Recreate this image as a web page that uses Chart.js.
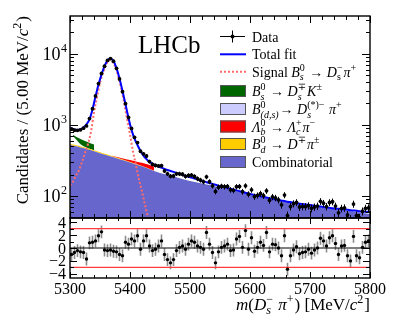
<!DOCTYPE html>
<html>
<head>
<meta charset="utf-8">
<script src="https://cdn.jsdelivr.net/npm/chart.js@4.4.0/dist/chart.umd.min.js"></script>
<style>
html, body { margin: 0; padding: 0; background: #fff; }
#wrap { position: relative; width: 403px; height: 328px; }
canvas { position: absolute; left: 0; top: 0; }
</style>
</head>
<body>
<div id="wrap">
  <canvas id="main" width="403" height="328"></canvas>
  <canvas id="pull" width="403" height="328"></canvas>
</div>
<script>
// binning: 5 MeV bins from 5300 to 5800
const binLow = 5300, binWidth = 5;

// data counts per bin
const counts = [870,840,838,852,899,966,1228,1687,2555,3816,
    5279,6675,8064,8572,7856,6252,4433,2934,1990,1271,
    891,668,563,426,391,365,305,278,269,265,
    267,225,205,190,191,205,205,202,189,194,
    196,188,175,167,158,186,159,139,116,133,
    137,135,136,122,120,135,136,115,139,106,
    122,98,102,108,101,118,87,97,94,88,
    75,103,53,71,78,81,70,71,71,73,
    67,70,72,84,79,71,81,83,72,58,
    67,68,54,47,77,53,49,61,67,68];

// pulls per bin (lower pad)
const pulls = [-1.0,-0.7,-0.4,-0.6,-0.7,-1.7,0.8,0.9,1.1,1.9,
    2.5,-0.3,-0.4,-0.3,-0.5,-0.6,-1.0,-1.2,0.9,0.6,
    1.4,1.1,1.9,-0.2,1.1,1.9,0.3,-0.4,-0.2,0.3,
    1.1,-1.0,-1.8,-2.3,-1.8,-0.4,0.1,0.3,-0.2,0.6,
    1.1,0.9,0.3,0.1,-0.2,2.4,0.6,-0.7,-2.3,-0.6,
    0.1,0.3,0.6,-0.4,-0.3,1.4,1.8,0.1,2.7,-0.2,
    1.6,-0.5,0.1,0.9,0.4,2.4,-0.6,0.6,0.5,0.0,
    -1.2,1.9,-3.3,-1.2,-0.3,0.2,-0.9,-0.7,-0.6,-0.2,
    -0.8,-0.3,0.0,1.5,1.1,0.3,1.6,1.9,0.7,-1.0,
    0.3,0.4,-1.2,-2.0,1.8,-1.2,-1.5,0.1,0.9,1.1];

// total fit at bin centres, plus the two edge values
const fitVals = [900,860,850,870,920,1020,1200,1650,2500,3700,
    5100,6700,8100,8600,7900,6300,4500,3000,1950,1250,
    850,640,520,430,370,330,300,285,272,260,
    250,240,232,225,218,211,204,198,192,186,
    181,176,171,166,161,156,152,148,144,140,
    136,132,129,126,123,120,117,114,111,108,
    106,103,101,99,97,95,93,91,89,88,
    86,85,83,82,81,79,78,77,76,75,
    74,73,72,71,70,69,68,67,66.5,66,
    65,64.5,64,63,62.5,62,61,60.5,60,59.5];
const fitEdges = [910, 59.3];

// signal Bs -> Ds pi (dotted)
const sigMass = [5300,5305,5310,5315,5320,5325,5330,5335,5340,5345,5350,5355,5360,5365,5370,
    5375,5380,5385,5390,5395,5400,5405,5410,5415,5420,5425,5430,5435,5440];
const sigVals = [140,160,195,230,300,400,540,800,1500,2450,3900,5400,6900,8130,7850,
    6690,5000,3370,2090,1220,730,420,270,170,115,75,50,36,26];

// stacked background components, shared mass grid
const compMass = [5300,5305,5310,5315,5320,5330,5340,5350,5360,5370,5380,5390,5400,5410,
    5420,5440,5460,5480,5500,5520,5540,5560,5600,5650,5700,5750,5800];
const combVals = [520,510,500,490,475,450,425,400,378,356,335,315,296,278,
    262,225,200,181,163,150,138,126,105,86,73,64,56];
const bdVals   = [18,18,17,17,16,15,14,12,11,9,8,6,5,3,2,1,0,0,0,0,0,0,0,0,0,0,0];
const lbVals   = [0,0,0,0,0,0,0,0,0,3,8,14,20,25,29,33,32,26,17,9,4,1,0,0,0,0,0];
const bdsVals  = [230,170,110,55,25,6,1,0,0,0,0,0,0,0,0,0,0,0,0,0,0,0,0,0,0,0,0];
const bsdkVals = [0,20,55,85,100,100,88,72,56,40,25,11,3,0,0,0,0,0,0,0,0,0,0,0,0,0,0];

const xTickLabels = [5300, 5400, 5500, 5600, 5700, 5800];
const yDecades = [2, 3, 4];
const pullTickLabels = [4, 2, 0, -2, -4];
const pullRefLines = [3, 0, -3];

const SERIF = '"Liberation Serif", "DejaVu Serif", serif';
function fnt(size, italic) {
    return (italic ? 'italic ' : '') + size + 'px ' + SERIF;
}

// draws text with italic pieces and stacked sub/superscripts, returns width
function rich(ctx, parts, x, y, size, measureOnly) {
    let cx = x;
    for (const p of parts) {
        if (typeof p === 'string' || p.i !== undefined) {
            const t = typeof p === 'string' ? p : p.i;
            ctx.font = fnt(size, typeof p !== 'string');
            if (!measureOnly) ctx.fillText(t, cx, y);
            cx += ctx.measureText(t).width;
        } else {
            const s = Math.round(size * 0.68);
            let w = 0;
            if (p.sup) {
                ctx.font = fnt(s, p.supI);
                if (!measureOnly) ctx.fillText(p.sup, cx, y - size * 0.42);
                w = ctx.measureText(p.sup).width;
            }
            if (p.sub) {
                ctx.font = fnt(s, p.subI);
                if (!measureOnly) ctx.fillText(p.sub, cx, y + size * 0.26);
                w = Math.max(w, ctx.measureText(p.sub).width);
            }
            cx += w + 1;
        }
    }
    return cx - x;
}

const legendItems = [
    {kind: 'data', text: ['Data']},
    {kind: 'line', color: '#0000ff', text: ['Total fit']},
    {kind: 'dash', color: '#ff6b6b', text: ['Signal ', {i: 'B'}, {sup: '0', sub: 's', subI: true}, ' \u2192 ', {i: 'D'}, {sup: '\u2212', sub: 's'}, {i: '\u03c0'}, {sup: '+'}]},
    {kind: 'box', color: '#006600', text: [{i: 'B'}, {sup: '0', sub: 's', subI: true}, ' \u2192 ', {i: 'D'}, {sup: '\u2213', sub: 's', subI: true}, {i: 'K'}, {sup: '\u00b1'}]},
    {kind: 'box', color: '#ccccff', text: [{i: 'B'}, {sup: '0', sub: '(d,s)', subI: true}, '\u2192 ', {i: 'D'}, {sup: '(*)\u2212', sub: 's', subI: true}, ' ', {i: '\u03c0'}, {sup: '+'}]},
    {kind: 'box', color: '#ff0000', text: [{i: '\u039b'}, {sup: '0', sub: 'b', subI: true}, ' \u2192 ', {i: '\u039b'}, {sup: '+', sub: 'c', subI: true}, {i: '\u03c0'}, {sup: '\u2212'}]},
    {kind: 'box', color: '#ffcc00', text: [{i: 'B'}, {sup: '0', sub: 'd', subI: true}, ' \u2192 ', {i: 'D'}, {sup: '\u2213'}, {i: '\u03c0'}, {sup: '\u00b1'}]},
    {kind: 'box', color: '#6666cc', text: ['Combinatorial']}
];

function binCenter(i) {
    return binLow + binWidth * (i + 0.5);
}

function pts(ms, vs) {
    return ms.map(function (m, k) { return {x: m, y: vs[k]}; });
}

function drawXTicks(ctx, x, area, major, minor) {
    ctx.beginPath();
    for (let m = 5300; m <= 5800; m += 20) {
        const px = Math.round(x.getPixelForValue(m)) + 0.5;
        const len = m % 100 === 0 ? major : minor;
        ctx.moveTo(px, area.bottom); ctx.lineTo(px, area.bottom - len);
        ctx.moveTo(px, area.top); ctx.lineTo(px, area.top + len);
    }
    ctx.stroke();
}

const mainDecor = {
    id: 'mainDecor',
    afterDatasetsDraw(chart) {
        const {ctx, chartArea: a, scales: {x, y}} = chart;
        ctx.save();
        ctx.beginPath();
        ctx.rect(a.left, a.top, a.right - a.left, a.bottom - a.top);
        ctx.clip();
        ctx.strokeStyle = '#000';
        ctx.lineWidth = 1;
        ctx.beginPath();
        counts.forEach(function (n, i) {
            const m = binCenter(i);
            const px = x.getPixelForValue(m);
            const e = Math.sqrt(n);
            ctx.moveTo(px, y.getPixelForValue(n + e));
            ctx.lineTo(px, y.getPixelForValue(Math.max(n - e, 1)));
            const py = y.getPixelForValue(n);
            ctx.moveTo(x.getPixelForValue(m - binWidth / 2), py);
            ctx.lineTo(x.getPixelForValue(m + binWidth / 2), py);
        });
        ctx.stroke();
        ctx.restore();
    },
    afterDraw(chart) {
        const {ctx, chartArea: a, scales: {x, y}} = chart;
        ctx.save();
        ctx.strokeStyle = '#000';
        ctx.fillStyle = '#000';

        // ticks
        ctx.lineWidth = 1;
        drawXTicks(ctx, x, a, 7, 4);
        ctx.beginPath();
        for (let d = 1; d <= 4; d++) {
            for (let k = 1; k <= 9; k++) {
                const v = k * Math.pow(10, d);
                if (v < y.min || v > y.max) continue;
                const py = Math.round(y.getPixelForValue(v)) + 0.5;
                const len = k === 1 ? 8 : 4;
                ctx.moveTo(a.left, py); ctx.lineTo(a.left + len, py);
                ctx.moveTo(a.right, py); ctx.lineTo(a.right - len, py);
            }
        }
        ctx.stroke();

        // frame
        ctx.lineWidth = 1.4;
        ctx.strokeRect(a.left, a.top, a.right - a.left, a.bottom - a.top);

        // y tick labels 10^n
        yDecades.forEach(function (d) {
            const py = y.getPixelForValue(Math.pow(10, d));
            ctx.font = fnt(12, false);
            const ws = ctx.measureText(String(d)).width;
            ctx.textAlign = 'left';
            ctx.fillText(String(d), 67 - ws, py - 2);
            ctx.font = fnt(18, false);
            ctx.textAlign = 'right';
            ctx.fillText('10', 67 - ws - 0.5, py + 6.5);
        });
        ctx.textAlign = 'left';

        // y title
        const yTitle = ['Candidates / (5.00 MeV/', {i: 'c'}, {sup: '2'}, ')'];
        ctx.save();
        ctx.translate(28, a.top);
        ctx.rotate(-Math.PI / 2);
        const wy = rich(ctx, yTitle, 0, 0, 17, true);
        rich(ctx, yTitle, -wy, 0, 17, false);
        ctx.restore();

        // LHCb
        ctx.font = fnt(25, false);
        ctx.fillText('LHCb', 138, 53);

        // legend
        const rows = [36.5, 54.3, 71.8, 91, 109, 126.5, 144, 162];
        legendItems.forEach(function (it, k) {
            const ry = rows[k];
            if (it.kind === 'data') {
                ctx.lineWidth = 1;
                ctx.beginPath();
                ctx.moveTo(220, ry); ctx.lineTo(245, ry);
                ctx.moveTo(232.5, ry - 6); ctx.lineTo(232.5, ry + 6);
                ctx.stroke();
                ctx.beginPath();
                ctx.arc(232.5, ry, 2, 0, Math.PI * 2);
                ctx.fill();
            } else if (it.kind === 'line' || it.kind === 'dash') {
                ctx.strokeStyle = it.color;
                ctx.lineWidth = 2;
                ctx.setLineDash(it.kind === 'dash' ? [2, 2] : []);
                ctx.beginPath();
                ctx.moveTo(220, ry); ctx.lineTo(246, ry);
                ctx.stroke();
                ctx.setLineDash([]);
                ctx.strokeStyle = '#000';
            } else {
                ctx.fillStyle = it.color;
                ctx.fillRect(220, ry - 6, 26, 12);
                ctx.lineWidth = 1;
                ctx.strokeStyle = '#555';
                ctx.strokeRect(220.5, ry - 5.5, 25, 11);
                ctx.strokeStyle = '#000';
                ctx.fillStyle = '#000';
            }
            rich(ctx, it.text, 252, ry + 5, 14, false);
        });
        ctx.restore();
    }
};

const pullDecor = {
    id: 'pullDecor',
    beforeDatasetsDraw(chart) {
        const {ctx, scales: {x, y}} = chart;
        ctx.save();
        ctx.strokeStyle = '#8c8c8c';
        ctx.lineWidth = 1.6;
        ctx.beginPath();
        pulls.forEach(function (p, i) {
            const px = x.getPixelForValue(binCenter(i));
            ctx.moveTo(px, y.getPixelForValue(p + 1));
            ctx.lineTo(px, y.getPixelForValue(p - 1));
        });
        ctx.stroke();
        ctx.restore();
    },
    afterDraw(chart) {
        const {ctx, chartArea: a, scales: {x, y}} = chart;
        ctx.save();
        ctx.strokeStyle = '#000';
        ctx.fillStyle = '#000';
        ctx.lineWidth = 1;
        drawXTicks(ctx, x, a, 6, 3);
        ctx.beginPath();
        for (let v = -4; v <= 4; v++) {
            const py = Math.round(y.getPixelForValue(v)) + 0.5;
            const len = v % 2 === 0 ? 7 : 4;
            ctx.moveTo(a.left, py); ctx.lineTo(a.left + len, py);
            ctx.moveTo(a.right, py); ctx.lineTo(a.right - len, py);
        }
        ctx.stroke();
        ctx.lineWidth = 1.4;
        ctx.strokeRect(a.left, a.top, a.right - a.left, a.bottom - a.top);

        // pull labels
        ctx.font = fnt(16, false);
        ctx.textAlign = 'right';
        pullTickLabels.forEach(function (v) {
            const t = v < 0 ? '\u2212' + Math.abs(v) : String(v);
            ctx.fillText(t, 66, y.getPixelForValue(v) + 5.5);
        });

        // x tick labels
        ctx.textAlign = 'center';
        xTickLabels.forEach(function (m) {
            ctx.fillText(String(m), x.getPixelForValue(m), 294);
        });

        // x title
        ctx.textAlign = 'left';
        const xTitle = [{i: 'm'}, '(', {i: 'D'}, {sup: '\u2212', sub: 's', subI: true}, ' ', {i: '\u03c0'}, {sup: '+'}, ') [MeV/', {i: 'c'}, {sup: '2'}, ']'];
        const wx = rich(ctx, xTitle, 0, 0, 17, true);
        rich(ctx, xTitle, a.right - wx, 310, 17, false);
        ctx.restore();
    }
};

function area(vals, color, fill) {
    return {
        data: pts(compMass, vals),
        backgroundColor: color,
        borderColor: color,
        borderWidth: 0,
        pointRadius: 0,
        fill: fill,
        stack: 'bkg',
        order: 0,
        cubicInterpolationMode: 'monotone'
    };
}

const fitPoints = [{x: binLow, y: fitEdges[0]}]
    .concat(fitVals.map(function (v, i) { return {x: binCenter(i), y: v}; }))
    .concat([{x: 5800, y: fitEdges[1]}]);

new Chart(document.getElementById('main'), {
    type: 'line',
    data: {
        datasets: [
            {
                label: 'Data',
                data: counts.map(function (n, i) { return {x: binCenter(i), y: n}; }),
                showLine: false,
                pointRadius: 1.9,
                pointBorderWidth: 0,
                pointBackgroundColor: '#000',
                borderColor: '#000',
                stack: 'data',
                order: -3
            },
            {
                label: 'Total fit',
                data: fitPoints,
                borderColor: '#0000ff',
                borderWidth: 2,
                pointRadius: 0,
                fill: false,
                cubicInterpolationMode: 'monotone',
                stack: 'fit',
                order: -2
            },
            {
                label: 'Signal',
                data: pts(sigMass, sigVals),
                borderColor: '#ff6b6b',
                borderWidth: 2,
                borderDash: [2, 2],
                pointRadius: 0,
                fill: false,
                cubicInterpolationMode: 'monotone',
                stack: 'sig',
                order: -1
            },
            area(combVals, '#6666cc', 'start'),
            area(bdVals, '#ffcc00', '-1'),
            area(lbVals, '#ff0000', '-1'),
            area(bdsVals, '#ccccff', '-1'),
            area(bsdkVals, '#006600', '-1')
        ]
    },
    options: {
        responsive: false,
        animation: false,
        devicePixelRatio: 1,
        layout: {padding: {left: 70, right: 33, top: 16, bottom: 110}},
        plugins: {legend: {display: false}, tooltip: {enabled: false}},
        scales: {
            x: {type: 'linear', min: 5300, max: 5800, display: false},
            y: {type: 'logarithmic', min: 49, max: 34000, display: false, stacked: true}
        }
    },
    plugins: [mainDecor]
});

new Chart(document.getElementById('pull'), {
    type: 'line',
    data: {
        datasets: [
            {
                data: pulls.map(function (p, i) { return {x: binCenter(i), y: p}; }),
                showLine: false,
                pointRadius: 1.7,
                pointBorderWidth: 0,
                pointBackgroundColor: '#000',
                borderColor: '#000',
                order: -1
            }
        ].concat(pullRefLines.map(function (v) {
            return {
                data: [{x: 5300, y: v}, {x: 5800, y: v}],
                borderColor: v === 0 ? '#000' : '#ff3b3b',
                borderWidth: v === 0 ? 1 : 1.2,
                pointRadius: 0,
                fill: false
            };
        }))
    },
    options: {
        responsive: false,
        animation: false,
        devicePixelRatio: 1,
        layout: {padding: {left: 70, right: 33, top: 218, bottom: 50}},
        plugins: {legend: {display: false}, tooltip: {enabled: false}},
        scales: {
            x: {type: 'linear', min: 5300, max: 5800, display: false},
            y: {type: 'linear', min: -4.65, max: 4.65, display: false}
        }
    },
    plugins: [pullDecor]
});
</script>
</body>
</html>
